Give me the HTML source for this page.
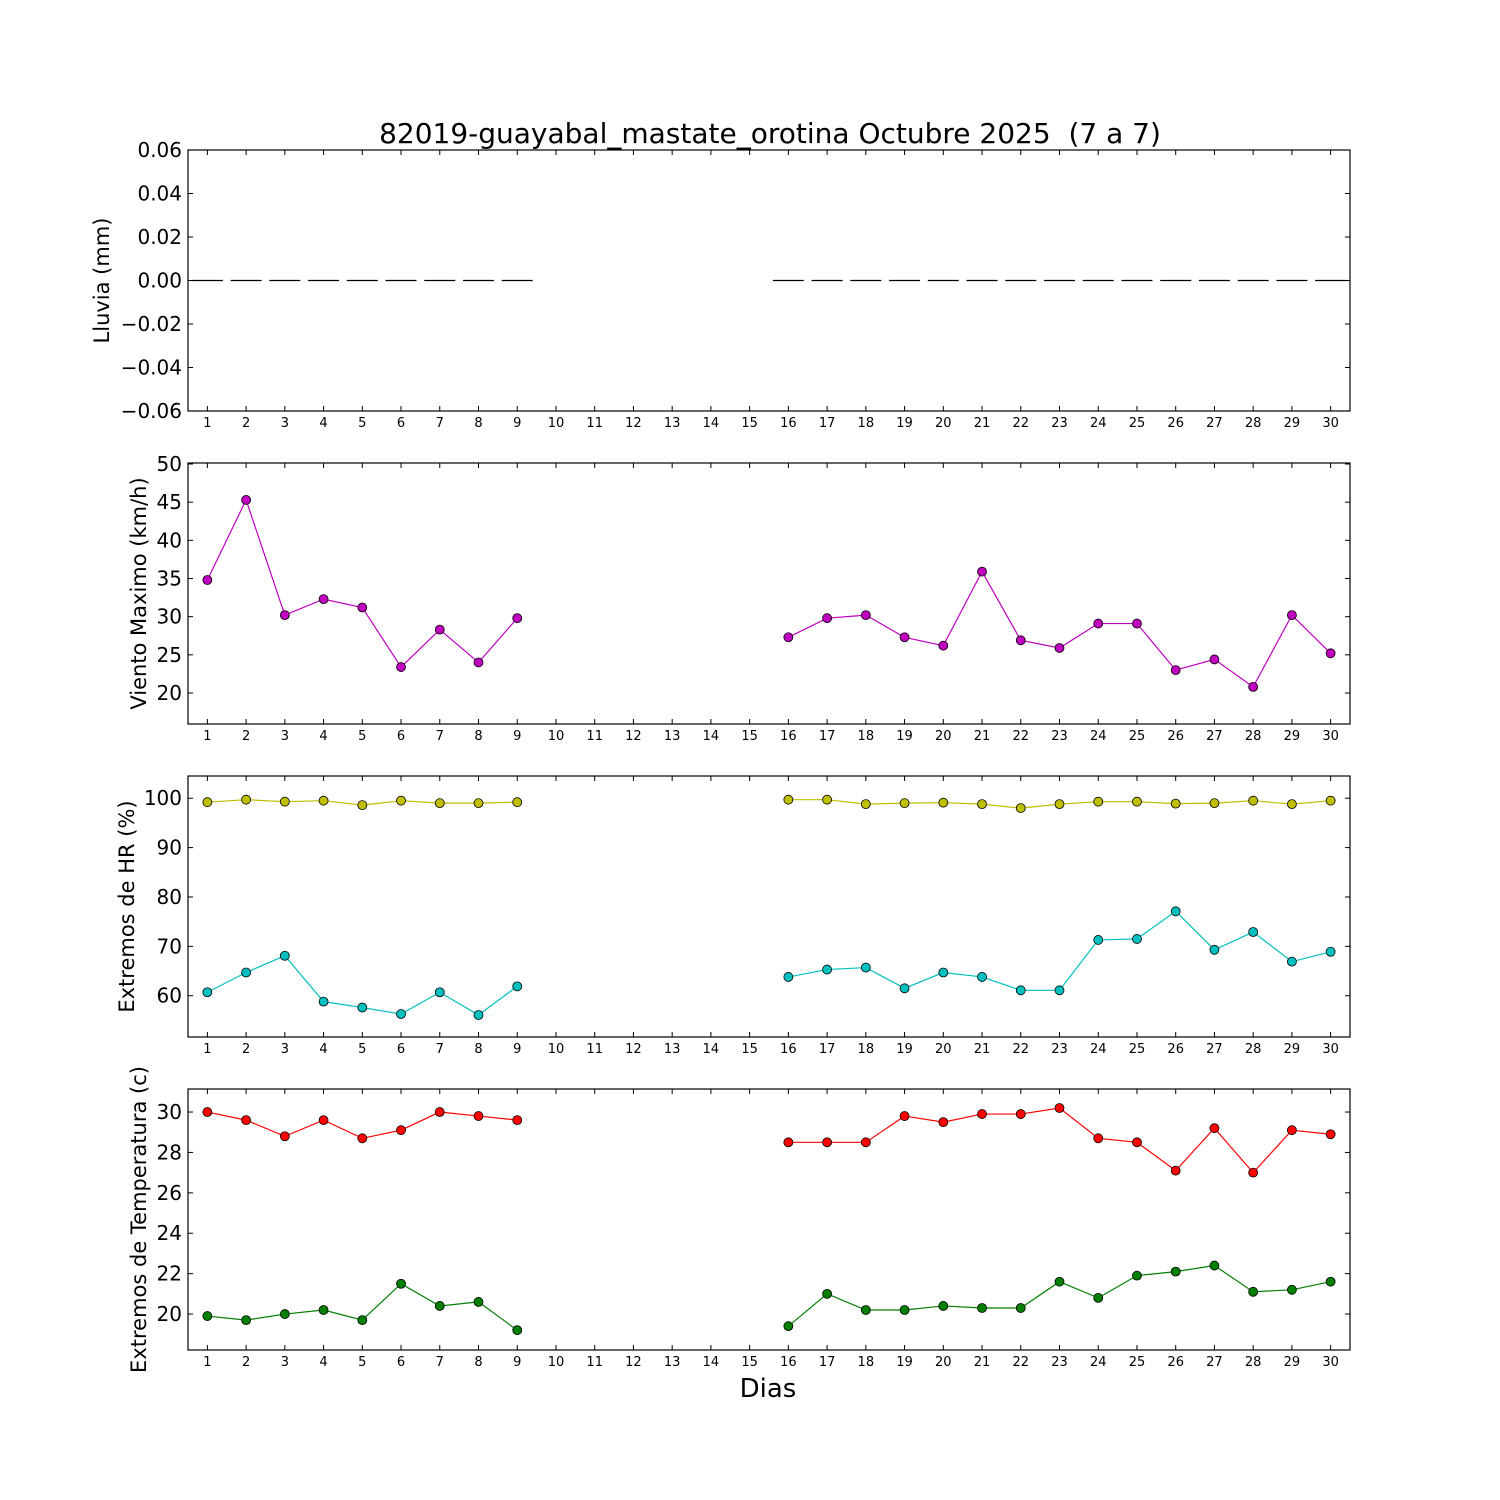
<!DOCTYPE html>
<html><head><meta charset="utf-8"><style>
html,body{margin:0;padding:0;background:#fff;}
svg{display:block;font-family:"DejaVu Sans","Liberation Sans",sans-serif;}
text{white-space:pre;}
</style></head><body>
<svg id="chart" width="1500" height="1500" viewBox="0 0 1500 1500">
<rect width="1500" height="1500" fill="#fff"/>
<text x="770" y="143" font-size="28" text-anchor="middle" xml:space="preserve">82019-guayabal_mastate_orotina Octubre 2025  (7 a 7)</text>
<text x="768" y="1397" font-size="26" text-anchor="middle">Dias</text>
</svg>
<script>
const days = [1,2,3,4,5,6,7,8,9,16,17,18,19,20,21,22,23,24,25,26,27,28,29,30];
const rain = [0,0,0,0,0,0,0,0,0,0,0,0,0,0,0,0,0,0,0,0,0,0,0,0];
const wind = [34.8,45.3,30.2,32.3,31.2,23.4,28.3,24.0,29.8,27.3,29.8,30.2,27.3,26.2,35.9,26.9,25.9,29.1,29.1,23.0,24.4,20.8,30.2,25.2];
const hrMax = [99.2,99.7,99.3,99.5,98.6,99.5,99.0,99.0,99.2,99.7,99.7,98.8,99.0,99.1,98.8,98.0,98.8,99.3,99.3,98.9,99.0,99.5,98.8,99.5];
const hrMin = [60.7,64.7,68.1,58.8,57.6,56.3,60.7,56.1,61.9,63.8,65.3,65.7,61.5,64.7,63.8,61.1,61.1,71.3,71.5,77.1,69.3,72.9,66.9,68.9];
const tMax = [30.0,29.6,28.8,29.6,28.7,29.1,30.0,29.8,29.6,28.5,28.5,28.5,29.8,29.5,29.9,29.9,30.2,28.7,28.5,27.1,29.2,27.0,29.1,28.9];
const tMin = [19.9,19.7,20.0,20.2,19.7,21.5,20.4,20.6,19.2,19.4,21.0,20.2,20.2,20.4,20.3,20.3,21.6,20.8,21.9,22.1,22.4,21.1,21.2,21.6];
const rainTicks = [-0.06,-0.04,-0.02,0,0.02,0.04,0.06];
const windTicks = [20,25,30,35,40,45,50];
const hrTicks = [60,70,80,90,100];
const tTicks = [20,22,24,26,28,30];
const xTicks = [1,2,3,4,5,6,7,8,9,10,11,12,13,14,15,16,17,18,19,20,21,22,23,24,25,26,27,28,29,30];

const NS='http://www.w3.org/2000/svg';
const svg=document.getElementById('chart');
const L=188,R=1350;
const x=d=>L+(d-0.5)*(R-L)/30;
function mk(tag,attrs,parent){const e=document.createElementNS(NS,tag);for(const k in attrs)e.setAttribute(k,attrs[k]);(parent||svg).appendChild(e);return e;}

function panel(name,top,bot,ymin,ymax,ticks,fmt,label){
  const g=mk('g',{});
  
  
  const y=v=>bot-(v-ymin)/(ymax-ymin)*(bot-top);
  for(const t of ticks){
    const yy=y(t);
    mk('line',{x1:L,x2:L+5,y1:yy,y2:yy,stroke:'#000'},g);
    mk('line',{x1:R-5,x2:R,y1:yy,y2:yy,stroke:'#000'},g);
    const tx=mk('text',{x:L-6,y:yy+7,'font-size':20,'text-anchor':'end'},g);
    tx.textContent=fmt(t);
    
    
  }
  for(const d of xTicks){
    const xx=x(d);
    mk('line',{x1:xx,x2:xx,y1:bot,y2:bot-5,stroke:'#000'},g);
    mk('line',{x1:xx,x2:xx,y1:top,y2:top+5,stroke:'#000'},g);
    const tx=mk('text',{x:xx,y:bot+16,'font-size':13,'text-anchor':'middle'},g);
    tx.textContent=d;
    
    
  }
  const cy=(top+bot)/2;
  const lb=mk('text',{x:0,y:0,'font-size':21,'text-anchor':'middle',transform:`translate(${label[1]},${cy}) rotate(-90)`},g);
  lb.textContent=label[0];
  
  
  return {g,y,top,bot};
}
function series(p,vals,color,name){
  const seg=[[],[]];
  days.forEach((d,i)=>{(d<=9?seg[0]:seg[1]).push(x(d)+','+p.y(vals[i]));});
  for(const s of seg){
    const pl=mk('polyline',{points:s.join(' '),fill:'none',stroke:color,'stroke-width':1.2},p.g);
    
    
  }
  days.forEach((d,i)=>{
    const c=mk('circle',{cx:x(d),cy:p.y(vals[i]),r:4.5,fill:color,stroke:'#000','stroke-width':0.8},p.g);
    
    
  });
}
function frame(p){mk('rect',{x:L,y:p.top,width:R-L,height:p.bot-p.top,fill:'none',stroke:'#000','stroke-width':1.2},p.g);}

const minus=s=>s.replace('-','\u2212');
const p1=panel('rain',150,411,-0.06,0.06,rainTicks,t=>minus(t.toFixed(2)),['Lluvia (mm)',109]);
days.forEach((d,i)=>{
  const w=0.8*(R-L)/30;
  const b=mk('line',{x1:x(d)-w/2,x2:x(d)+w/2,y1:p1.y(rain[i]),y2:p1.y(rain[i]),stroke:'#000','stroke-width':1.2},p1.g);
  
  
});
frame(p1);
const p2=panel('wind',463,724,15.94,50.13,windTicks,t=>String(t),['Viento Maximo (km/h)',146]);
series(p2,wind,'#bf00bf','wind-max');frame(p2);
const p3=panel('humidity',776,1037,51.64,104.5,hrTicks,t=>String(t),['Extremos de HR (%)',134]);
series(p3,hrMax,'#bfbf00','hr-max');series(p3,hrMin,'#00bfbf','hr-min');frame(p3);
const p4=panel('temperature',1089,1350,18.22,31.14,tTicks,t=>String(t),['Extremos de Temperatura (c)',146]);
series(p4,tMax,'#ff0000','temp-max');series(p4,tMin,'#007f00','temp-min');frame(p4);
</script>
</body></html>
